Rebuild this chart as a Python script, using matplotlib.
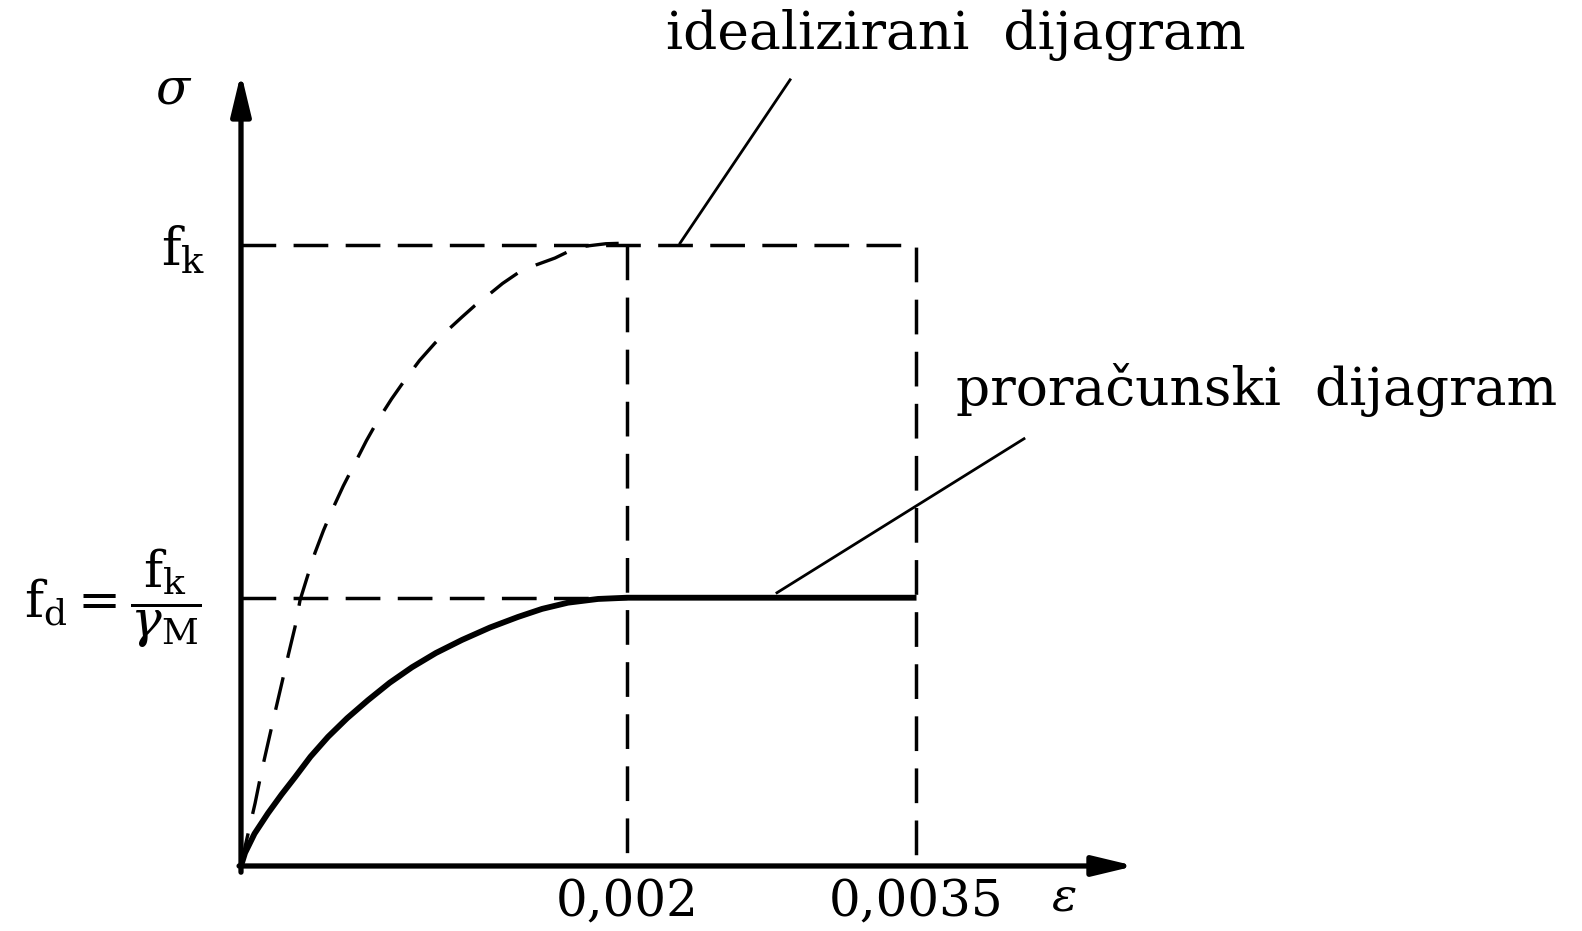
import matplotlib
matplotlib.use("Agg")
import matplotlib.pyplot as plt

# idealizirani dijagram (crtkano), eps u promilima, sigma u jedinicama f_k
eps_ideal = [0.0, 0.021, 0.073, 0.105, 0.140, 0.176, 0.212, 0.246, 0.280, 0.306,
             0.345, 0.383, 0.427, 0.472, 0.530, 0.591, 0.650, 0.710, 0.780,
             0.850, 0.925, 1.005, 1.075, 1.145, 1.210, 1.280, 1.355, 1.435,
             1.530, 1.627, 1.700, 1.782, 1.890, 2.0]
sig_ideal = [0.0, 0.031, 0.101, 0.150, 0.198, 0.247, 0.295, 0.341, 0.385, 0.428,
             0.467, 0.504, 0.540, 0.573, 0.612, 0.649, 0.685, 0.718, 0.752,
             0.783, 0.814, 0.842, 0.864, 0.884, 0.902, 0.919, 0.938, 0.955,
             0.968, 0.979, 0.990, 0.998, 1.002, 1.003]

# proracunski dijagram (puna linija)
eps_design = [0.0, 0.021, 0.070, 0.140, 0.210, 0.280, 0.360, 0.451, 0.550,
              0.658, 0.770, 0.886, 1.010, 1.145, 1.290, 1.435, 1.560, 1.694,
              1.850, 2.0, 3.5]
sig_design = [0.0, 0.021, 0.052, 0.085, 0.115, 0.143, 0.176, 0.208, 0.238,
              0.267, 0.295, 0.320, 0.343, 0.364, 0.384, 0.401, 0.414, 0.424,
              0.430, 0.432, 0.432]

fk = 1.0
fd = 0.432
eps_c2 = 2.0
eps_cu = 3.5
tick_pos = [2.0, 3.5]
tick_labels = ['0,002', '0,0035']

plt.rcParams['mathtext.fontset'] = 'dejavuserif'
serif = ['DejaVu Serif']

fig = plt.figure(figsize=(15.82, 9.31), dpi=100)
ax = fig.add_axes([0, 0, 1, 1])
ax.set_xlim(-1.2487, 6.9482)
ax.set_ylim(-0.1047, 1.3945)
ax.axis('off')

# osi sa strelicama
arr = dict(arrowstyle='-|>,head_length=1.25,head_width=0.3', lw=3.8,
           color='black', shrinkA=0, shrinkB=0, mutation_scale=20)
ax.annotate('', xy=(4.632, 0), xytext=(-0.01, 0), arrowprops=arr)
ax.annotate('', xy=(0, 1.277), xytext=(0, -0.01), arrowprops=arr)

# pomocne crtkane linije
dash_kw = dict(color='black', lw=2.5, dashes=(10, 5))
ax.plot([0, eps_cu, eps_cu], [fk, fk, 0], **dash_kw)
ax.plot([eps_c2, eps_c2], [fk, 0], **dash_kw)
ax.plot([0, eps_c2], [fd, fd], **dash_kw)

# krivulje
ax.plot(eps_ideal, sig_ideal, color='black', lw=2.4, dashes=(10, 6),
        solid_joinstyle='round')
ax.plot(eps_design, sig_design, color='black', lw=4.2, solid_capstyle='butt',
        solid_joinstyle='round')

# pokazne linije
ax.plot([2.275, 2.845], [1.003, 1.266], color='black', lw=2.0)
ax.plot([2.777, 4.057], [0.44, 0.688], color='black', lw=2.0)

# tekstovi
ax.text(3.705, 1.338, 'idealizirani  dijagram', fontsize=38.5, family=serif,
        ha='center', va='center')
ax.text(5.264, 0.766, 'proračunski  dijagram', fontsize=38.5, family=serif,
        ha='center', va='center')
ax.text(-0.347, 1.251, r'$\sigma$', fontsize=36, ha='center', va='center')
ax.text(-0.3, 0.99, r'$\mathrm{f_k}$', fontsize=38, ha='center', va='center')
ax.text(-0.663, fd, r'$\mathrm{f_d} = \dfrac{\mathrm{f_k}}{\gamma_\mathrm{M}}$',
        fontsize=37, ha='center', va='center')
for p, lab in zip(tick_pos, tick_labels):
    ax.text(p, -0.0596, lab, fontsize=36, family=serif, ha='center', va='center')
ax.text(4.264, -0.0515, r'$\varepsilon$', fontsize=34, ha='center', va='center')

fig.savefig('out.png', dpi=100)
